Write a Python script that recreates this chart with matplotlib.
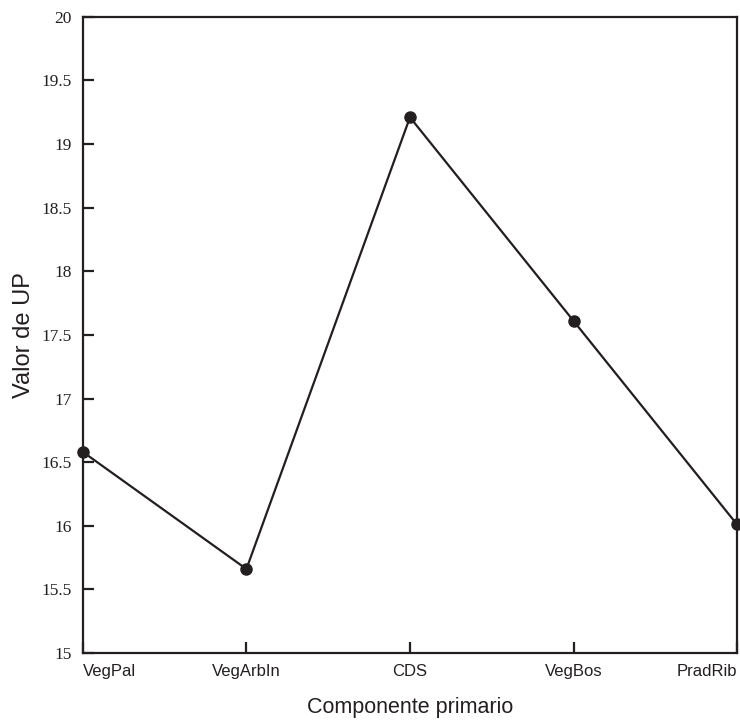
import matplotlib.pyplot as plt

# Values
componentes = ['VegPal', 'VegArbIn', 'CDS', 'VegBos', 'PradRib']
valor_up = [16.58, 15.66, 19.21, 17.61, 16.01]
y_ticks = [15, 15.5, 16, 16.5, 17, 17.5, 18, 18.5, 19, 19.5, 20]
y_labels = ['15', '15.5', '16', '16.5', '17', '17.5', '18', '18.5', '19', '19.5', '20']

ink = '#231f20'

fig = plt.figure(figsize=(7.4, 7.28), dpi=100)
ax = fig.add_axes([0.112, 0.103, 0.884, 0.874])

x = list(range(len(componentes)))
ax.plot(x, valor_up, '-o', color=ink, linewidth=1.6, markersize=8, clip_on=False, zorder=3)

ax.set_xlim(0, len(componentes) - 1)
ax.set_ylim(15, 20)
ax.set_xticks(x)
ax.set_xticklabels(componentes, family='Liberation Sans', fontsize=12)
# keep the end labels inside the figure
ticklabels = ax.get_xticklabels()
ticklabels[0].set_horizontalalignment('left')
ticklabels[-1].set_horizontalalignment('right')
ax.set_yticks(y_ticks)
ax.set_yticklabels(y_labels, family='Liberation Serif', fontsize=12.5)

ax.tick_params(direction='in', length=8, width=1.6, color=ink, labelcolor=ink)
ax.tick_params(axis='y', pad=8)
ax.tick_params(axis='x', pad=8)

for s in ax.spines.values():
    s.set_linewidth(1.6)
    s.set_color(ink)

ax.set_ylabel('Valor de UP', family='Liberation Sans', fontsize=17, color=ink, labelpad=5)
ax.set_xlabel('Componente primario', family='Liberation Sans', fontsize=15.5, color=ink, labelpad=13)

fig.savefig('out.png', dpi=100)
